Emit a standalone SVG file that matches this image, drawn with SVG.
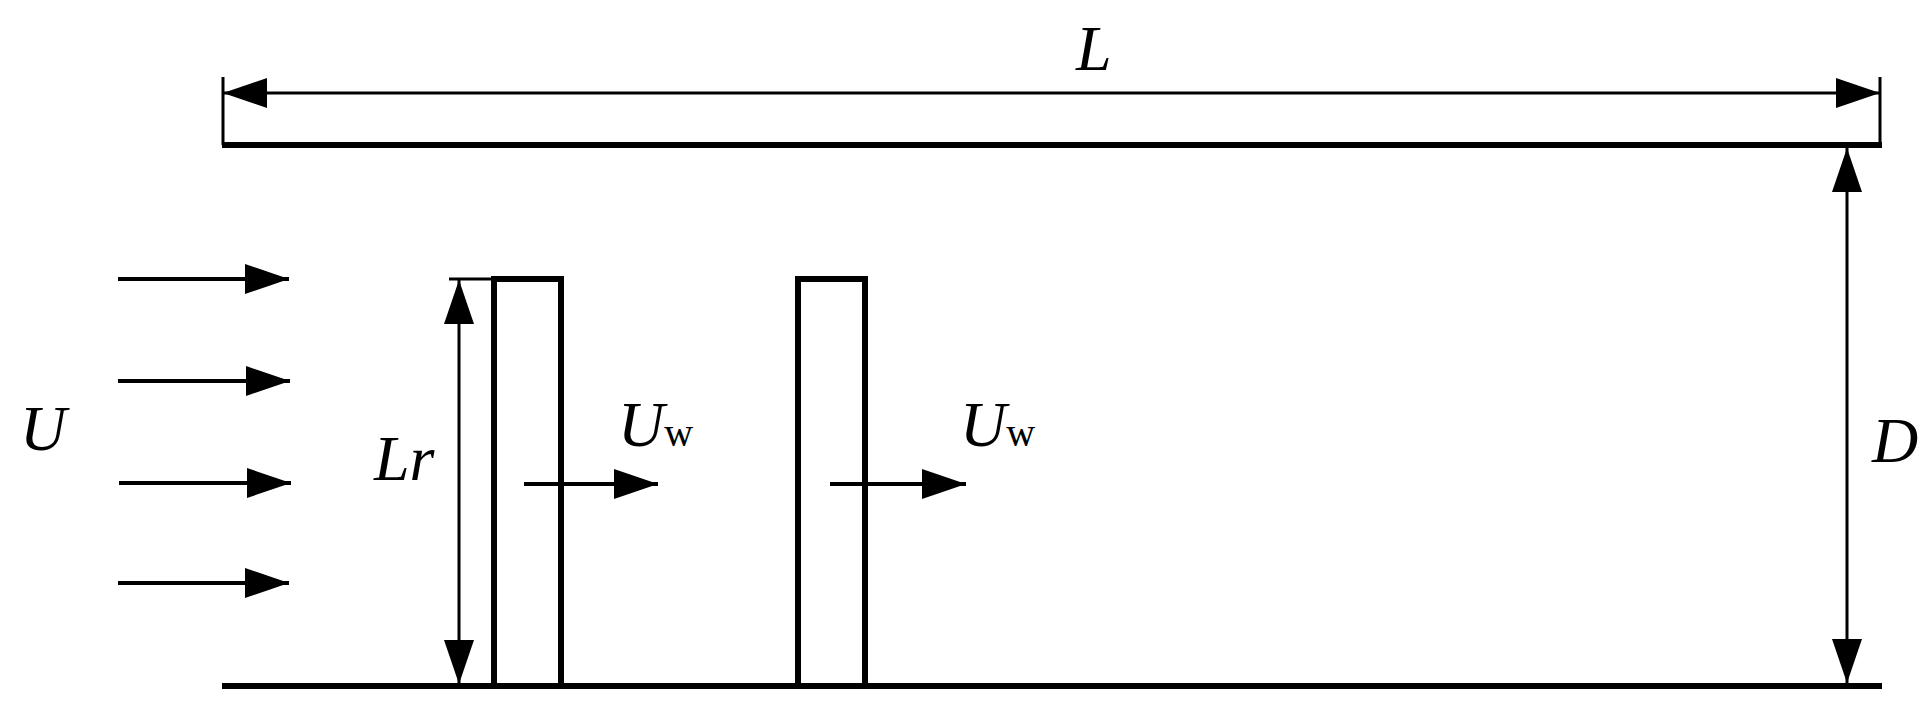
<svg xmlns="http://www.w3.org/2000/svg" width="1924" height="706" viewBox="0 0 1924 706">
<style>
.w{stroke:#000;stroke-width:6;fill:none}
.d{stroke:#000;stroke-width:3;fill:none}
.a{stroke:#000;stroke-width:4;fill:none}
.t{font-family:"Liberation Serif",serif;font-style:italic;font-size:64px;fill:#000}
.s{font-family:"Liberation Serif",serif;font-size:40px;fill:#000}
</style>
<defs>
<marker id="ah" markerUnits="userSpaceOnUse" markerWidth="44" markerHeight="30" refX="44" refY="15" orient="auto-start-reverse"><path d="M0,0L44,15L0,30Z" fill="#000"/></marker>
</defs>
<rect width="1924" height="706" fill="#fff"/>
<g id="walls">
<line class="w" x1="222" y1="145" x2="1882" y2="145"/>
<line class="w" x1="222" y1="686" x2="1882" y2="686"/>
</g>
<g id="plate1"><rect class="w" x="494" y="279" width="67" height="407"/></g>
<g id="plate2"><rect class="w" x="798" y="279" width="67" height="407"/></g>
<g id="connectors">
<line class="d" x1="223" y1="77" x2="223" y2="145"/>
<line class="d" x1="1880" y1="77" x2="1880" y2="145"/>
<line class="d" x1="223" y1="93" x2="1880" y2="93" marker-start="url(#ah)" marker-end="url(#ah)"/>
<line class="d" x1="1847" y1="148" x2="1847" y2="683" marker-start="url(#ah)" marker-end="url(#ah)"/>
<line class="d" x1="449" y1="279" x2="494" y2="279"/>
<line class="d" x1="459" y1="280" x2="459" y2="684" marker-start="url(#ah)" marker-end="url(#ah)"/>
<line class="a" x1="118" y1="279" x2="289" y2="279" marker-end="url(#ah)"/>
<line class="a" x1="118" y1="381" x2="290" y2="381" marker-end="url(#ah)"/>
<line class="a" x1="119" y1="483" x2="291" y2="483" marker-end="url(#ah)"/>
<line class="a" x1="118" y1="583" x2="289" y2="583" marker-end="url(#ah)"/>
<line class="a" x1="524" y1="484" x2="658" y2="484" marker-end="url(#ah)"/>
<line class="a" x1="830" y1="484" x2="966" y2="484" marker-end="url(#ah)"/>
</g>
<g id="labels">
<text class="t" x="1076" y="70">L</text>
<text class="t" x="1872" y="462">D</text>
<text class="t" x="20" y="450">U</text>
<text class="t" x="374" y="480">Lr</text>
<text class="t" x="618" y="446">U<tspan class="s" font-style="normal">w</tspan></text>
<text class="t" x="960" y="446">U<tspan class="s" font-style="normal">w</tspan></text>
</g>
</svg>
